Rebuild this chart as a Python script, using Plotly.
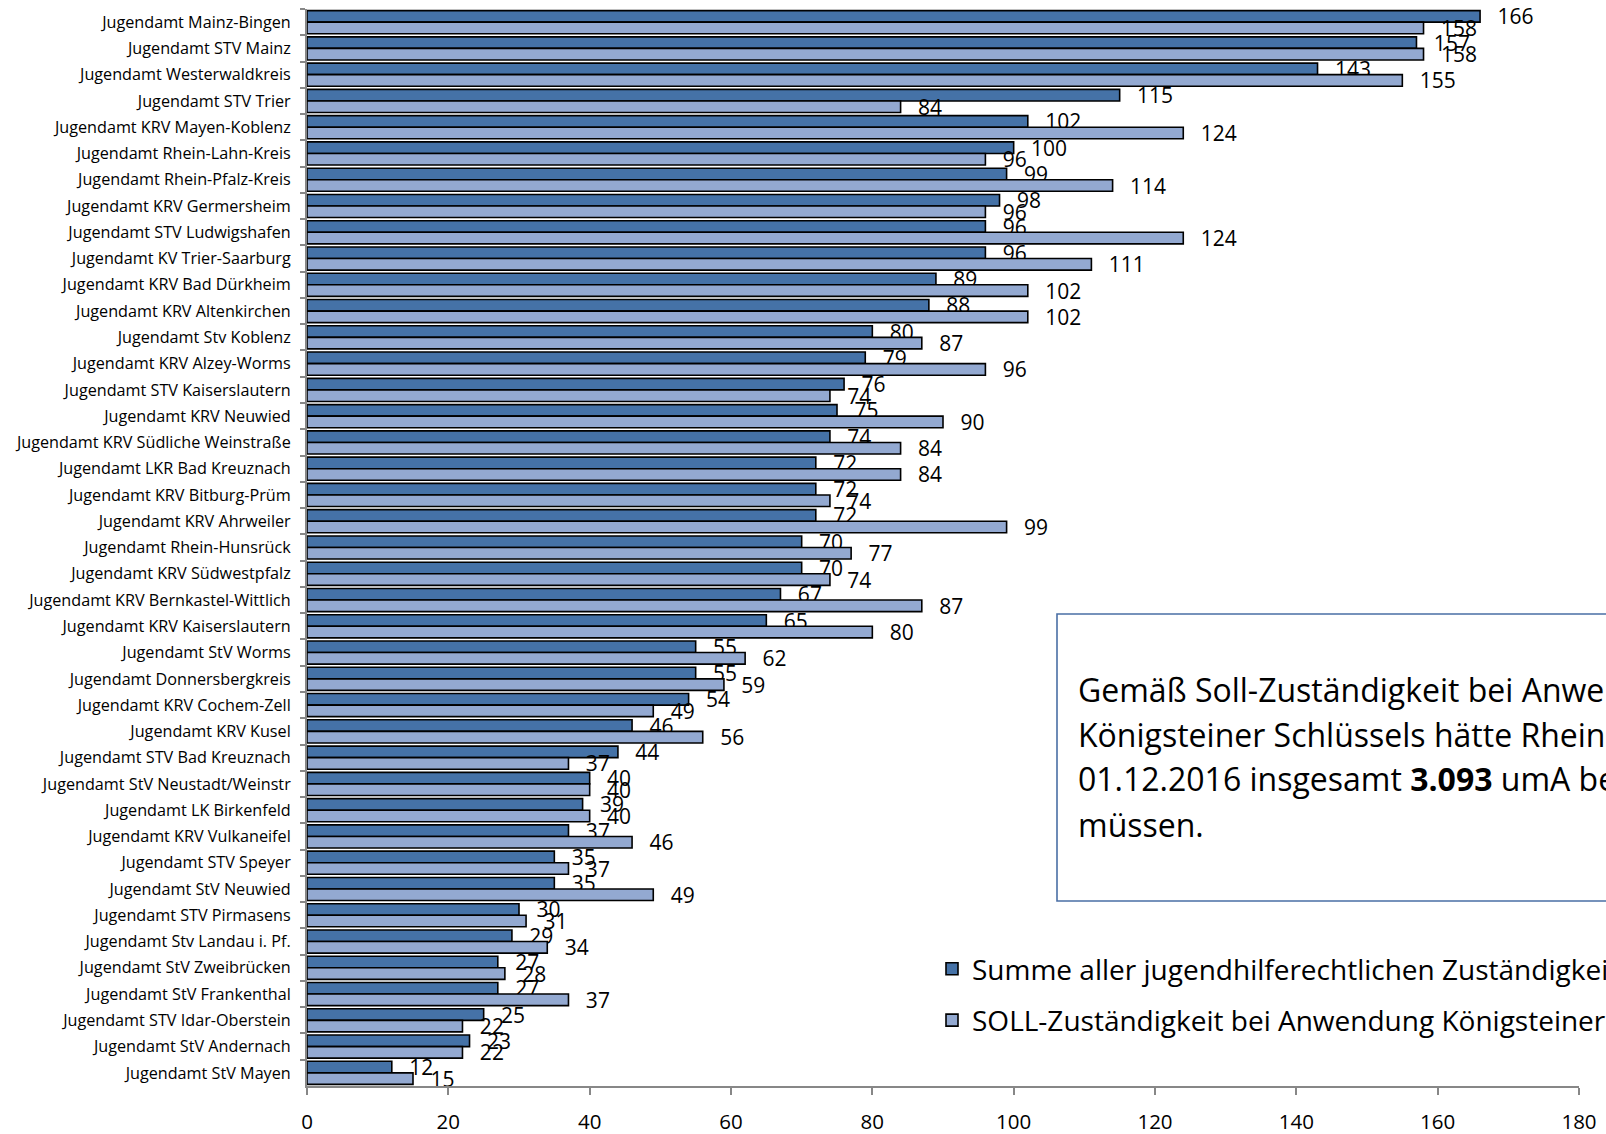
import plotly.graph_objects as go

categories = [
    "Jugendamt Mainz-Bingen", "Jugendamt STV Mainz", "Jugendamt Westerwaldkreis",
    "Jugendamt STV Trier", "Jugendamt KRV Mayen-Koblenz", "Jugendamt Rhein-Lahn-Kreis",
    "Jugendamt Rhein-Pfalz-Kreis", "Jugendamt KRV Germersheim", "Jugendamt STV Ludwigshafen",
    "Jugendamt KV Trier-Saarburg", "Jugendamt KRV Bad Dürkheim", "Jugendamt KRV Altenkirchen",
    "Jugendamt Stv Koblenz", "Jugendamt KRV Alzey-Worms", "Jugendamt STV Kaiserslautern",
    "Jugendamt KRV Neuwied", "Jugendamt KRV Südliche Weinstraße", "Jugendamt LKR Bad Kreuznach",
    "Jugendamt KRV Bitburg-Prüm", "Jugendamt KRV Ahrweiler", "Jugendamt Rhein-Hunsrück",
    "Jugendamt KRV Südwestpfalz", "Jugendamt KRV Bernkastel-Wittlich", "Jugendamt KRV Kaiserslautern",
    "Jugendamt StV Worms", "Jugendamt Donnersbergkreis", "Jugendamt KRV Cochem-Zell",
    "Jugendamt KRV Kusel", "Jugendamt STV Bad Kreuznach", "Jugendamt StV Neustadt/Weinstr",
    "Jugendamt LK Birkenfeld", "Jugendamt KRV Vulkaneifel", "Jugendamt STV Speyer",
    "Jugendamt StV Neuwied", "Jugendamt STV Pirmasens", "Jugendamt Stv Landau i. Pf.",
    "Jugendamt StV Zweibrücken", "Jugendamt StV Frankenthal", "Jugendamt STV Idar-Oberstein",
    "Jugendamt StV Andernach", "Jugendamt StV Mayen",
]

summe_ist = [166, 157, 143, 115, 102, 100, 99, 98, 96, 96, 89, 88, 80, 79, 76, 75, 74, 72,
             72, 72, 70, 70, 67, 65, 55, 55, 54, 46, 44, 40, 39, 37, 35, 35, 30, 29, 27, 27,
             25, 23, 12]

soll = [158, 158, 155, 84, 124, 96, 114, 96, 124, 111, 102, 102, 87, 96, 74, 90, 84, 84,
        74, 99, 77, 74, 87, 80, 62, 59, 49, 56, 37, 40, 40, 46, 37, 49, 31, 34, 28, 37,
        22, 22, 15]

series_names = [
    "Summe aller jugendhilferechtlichen Zuständigkeiten zum 01.12.2016",
    "SOLL-Zuständigkeit bei Anwendung Königsteiner Schlüssel",
]

x_ticks = [0, 20, 40, 60, 80, 100, 120, 140, 160, 180]

box_lines = [
    "Gemäß Soll-Zuständigkeit bei Anwendung des",
    "Königsteiner Schlüssels hätte Rheinland-Pfalz zum",
    "01.12.2016 insgesamt <b>3.093</b> umA betreuen",
    "müssen.",
]

FONT = "Open Sans"
DARK = "#4572A7"
LIGHT = "#93A9D1"

W, H = 1606, 1134
L, R, T, B = 307, 27, 9, 48
PW, PH = W - L - R, H - T - B


def px(xp):
    return (xp - L) / PW


def py(yp):
    return (H - B - yp) / PH


fig = go.Figure()
for vals, col, name, grp in [(summe_ist, DARK, series_names[0], "a"),
                             (soll, LIGHT, series_names[1], "b")]:
    fig.add_trace(go.Bar(
        y=categories, x=vals, orientation="h", name=name, legendgroup=grp,
        marker=dict(color=col, line=dict(color="black", width=1.6)),
        text=vals, texttemplate="\u00a0\u00a0\u2009%{x}", textposition="outside",
        textfont=dict(family=FONT, size=21, color="black"),
        constraintext="none", cliponaxis=False,
    ))

fig.update_layout(
    width=W, height=H,
    margin=dict(l=L, r=R, t=T, b=B, autoexpand=False),
    paper_bgcolor="white", plot_bgcolor="white",
    barmode="group", bargap=0.12, bargroupgap=0,
    font=dict(family=FONT, color="black"),
    showlegend=True,
    legend=dict(
        x=px(932), y=py(944), xanchor="left", yanchor="top",
        font=dict(family=FONT, size=28, color="black"),
        bgcolor="rgba(0,0,0,0)", tracegroupgap=12, traceorder="grouped",
    ),
    xaxis=dict(
        range=[0, 180], tickvals=x_ticks, ticks="outside", ticklen=7, tickwidth=2,
        tickcolor="#878787", showline=True, linecolor="#878787", linewidth=2,
        showgrid=False, zeroline=False, tickfont=dict(family=FONT, size=20.5, color="black"),
        ticklabelstandoff=9,
    ),
    yaxis=dict(
        type="category", autorange="reversed", tickson="boundaries", ticks="outside",
        ticklen=5, tickwidth=2, tickcolor="#878787", showline=True, linecolor="#878787",
        linewidth=2, showgrid=False, zeroline=False,
        tickfont=dict(family=FONT, size=16.2, color="black"), ticklabelstandoff=11,
    ),
)

fig.add_shape(type="rect", xref="paper", yref="paper",
              x0=px(1057), x1=px(1700), y0=py(901), y1=py(614),
              line=dict(color="#4A6FA5", width=1.6), fillcolor="white", layer="above")

for i, line in enumerate(box_lines):
    fig.add_annotation(xref="paper", yref="paper", x=px(1076), y=py(689 + 45 * i),
                       xanchor="left", yanchor="middle", showarrow=False, text=line,
                       align="left", font=dict(family=FONT, size=32, color="black"))

fig.write_html("out.html", config={"displayModeBar": False},
               post_script="document.body.style.margin='0';")
